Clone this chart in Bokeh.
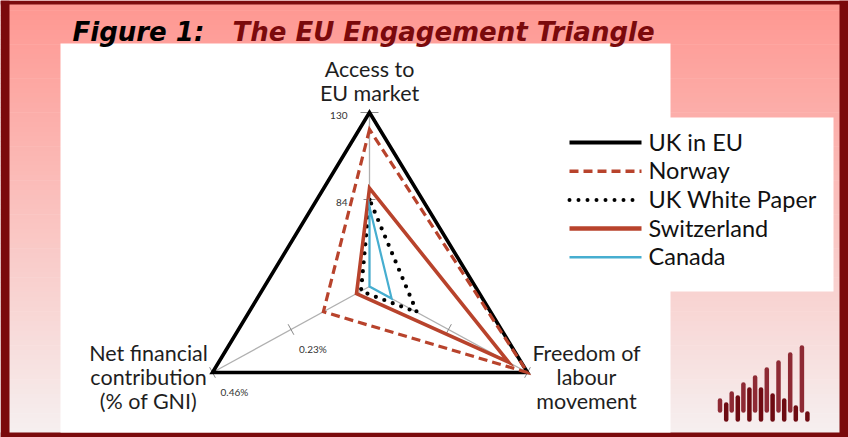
import numpy as np
from bokeh.plotting import figure
from bokeh.models import Range1d
from bokeh.embed import file_html
from bokeh.resources import INLINE
from bokeh.core.properties import value

# ---------------- data ----------------
series = ["UK in EU", "Norway", "UK White Paper", "Switzerland", "Canada"]
access_to_market = [130, 121, 84, 90, 80]            # top axis
net_contribution = [0.46, 0.135, 0.025, 0.038, 0.0]  # % of GNI, left axis
labour_freedom = [100, 100, 30, 88, 14]              # index, right axis

access_range = [38, 130]
contrib_range = [0.0, 0.46]
labour_range = [0, 100]

access_ticks = [84, 130]
access_tick_labels = ["84", "130"]
contrib_ticks = [0.23, 0.46]
contrib_tick_labels = ["0.23%", "0.46%"]
labour_ticks = [50, 100]

axis_titles = [["Access to", "EU market"],
               ["Net financial", "contribution", "(% of GNI)"],
               ["Freedom of", "labour", "movement"]]

title_part1 = "Figure 1:"
title_part2 = "The EU Engagement Triangle"

logo_back_heights = [10, 17, 26, 33, 41, 48, 56, 63]
logo_front_heights = [15, 22, 30, 30, 24, 19, 12, 6]

# ---------------- styles ----------------
colors = ["#000000", "#b8432c", "#000000", "#b8432c", "#46aed0"]
dashes = ["solid", "9 5", "0 9", "solid", "solid"]
widths = [3.6, 3.2, 4.2, 3.6, 2.2]
leg_widths = [4, 3.5, 4, 4.5, 2.5]
DARK = "#7b0a0c"
FONT = "Lato"

W, H = 848, 437
p = figure(width=W, height=H, x_range=Range1d(0, W), y_range=Range1d(H, 0),
           output_backend="svg", toolbar_location=None, min_border=0,
           x_axis_location=None, y_axis_location=None)
p.grid.visible = False
p.outline_line_color = None
p.background_fill_color = "white"
p.border_fill_color = "white"

# background gradient
n = 90
edges = np.linspace(0, H, n + 1)
top_c = np.array([255, 152, 146])
bot_c = np.array([246, 240, 240])
cols = []
for i in range(n):
    f = min(1.0, max(0.0, ((edges[i] + edges[i + 1]) / 2 - 4) / (432 - 4)))
    c = (top_c + (bot_c - top_c) * f).astype(int)
    cols.append("#%02x%02x%02x" % tuple(c))
p.quad(left=0, right=W, top=edges[:-1], bottom=edges[1:] + 0.6, color=cols, line_color=None)

# frame
p.quad(left=[0, 839, 0, 0], right=[9, W, W, W], top=[0, 0, 0, 432], bottom=[H, H, 4, H],
       color=DARK, line_color=None)

# white panels
p.quad(left=[60, 548], right=[670, 833], top=[43, 117], bottom=[432, 291],
       color="white", line_color=None)

# title
p.text(x=[72], y=[31], text=[title_part1], text_font=value("DejaVu Sans"),
       text_font_style="bold italic", text_font_size="26px", text_color="black",
       text_baseline="alphabetic")
p.text(x=[232], y=[31], text=[title_part2], text_font=value("DejaVu Sans"),
       text_font_style="bold italic", text_font_size="26px", text_color=DARK,
       text_baseline="alphabetic")

# ---------------- radar geometry ----------------
CX, CY = 369.0, 286.0
axis_vecs = [np.array([0.0, -174.0]), np.array([-157.0, 86.0]), np.array([158.0, 86.0])]
ranges = [access_range, contrib_range, labour_range]

def frac(v, rng):
    return (v - rng[0]) / (rng[1] - rng[0])

def point(axis, v):
    r = frac(v, ranges[axis])
    return CX + r * axis_vecs[axis][0], CY + r * axis_vecs[axis][1]

# axis lines
ends = [point(a, ranges[a][1]) for a in range(3)]
p.segment(x0=[CX] * 3, y0=[CY] * 3, x1=[e[0] for e in ends], y1=[e[1] for e in ends],
          line_color="#b0b0b0", line_width=1.3)

# ticks
tick_sets = [access_ticks, contrib_ticks, labour_ticks]
tx0, ty0, tx1, ty1 = [], [], [], []
for a in range(3):
    u = axis_vecs[a] / np.linalg.norm(axis_vecs[a])
    nrm = np.array([-u[1], u[0]])
    for t in tick_sets[a]:
        x, y = point(a, t)
        L = 9 if a == 0 and t == ranges[a][1] else 6
        tx0.append(x - nrm[0] * L); ty0.append(y - nrm[1] * L)
        tx1.append(x + nrm[0] * L); ty1.append(y + nrm[1] * L)
p.segment(x0=tx0, y0=ty0, x1=tx1, y1=ty1, line_color="#8a8a8a", line_width=1)

# series polygons
for i, name in enumerate(series):
    pts = [point(0, access_to_market[i]), point(1, net_contribution[i]), point(2, labour_freedom[i])]
    p.patch(x=[q[0] for q in pts], y=[q[1] for q in pts], fill_color=None,
            line_color=colors[i], line_width=widths[i], line_dash=dashes[i],
            line_join="miter", line_cap="round" if i == 2 else "butt")

# tick labels
for t, lab in zip(access_ticks, access_tick_labels):
    x, y = point(0, t)
    p.text(x=[x - 22], y=[y + 3], text=[lab], text_font=value(FONT), text_font_size="10px",
           text_color="#333333", text_baseline="middle", text_align="right")
for t, lab in zip(contrib_ticks, contrib_tick_labels):
    x, y = point(1, t)
    p.text(x=[x + 8], y=[y + 19], text=[lab], text_font=value(FONT), text_font_size="10px",
           text_color="#333333", text_baseline="middle", text_align="left")

# axis titles
title_pos = [(369, 68), (148, 352), (586, 352)]
for (lx, ly), lines in zip(title_pos, axis_titles):
    p.text(x=[lx] * len(lines), y=[ly + 24 * k for k in range(len(lines))], text=lines,
           text_font=value(FONT), text_font_size="21.5px", text_color="#1e1e1e",
           text_baseline="middle", text_align="center")

# legend
leg_y = [142 + 28.7 * k for k in range(len(series))]
for i, name in enumerate(series):
    p.line(x=[569, 641], y=[leg_y[i], leg_y[i]], line_color=colors[i], line_width=leg_widths[i],
           line_dash=dashes[i], line_cap="round" if i == 2 else "butt")
p.text(x=[648] * len(series), y=[y - 1 for y in leg_y], text=series, text_font=value(FONT),
       text_font_size="23.5px", text_color="#111111", text_baseline="middle", text_align="left")

# logo
bx = [719.5 + 11.7 * k for k in range(len(logo_back_heights))]
fx = [725.7 + 11.6 * k for k in range(len(logo_front_heights))]
p.segment(x0=bx, y0=[410] * len(bx), x1=bx, y1=[410 - h for h in logo_back_heights],
          line_color="#8e2a34", line_width=4.5, line_cap="round")
p.segment(x0=fx, y0=[419] * len(fx), x1=fx, y1=[419 - h for h in logo_front_heights],
          line_color="#6e0b12", line_width=4.5, line_cap="round")

open("out.html", "w").write(file_html(p, INLINE))
